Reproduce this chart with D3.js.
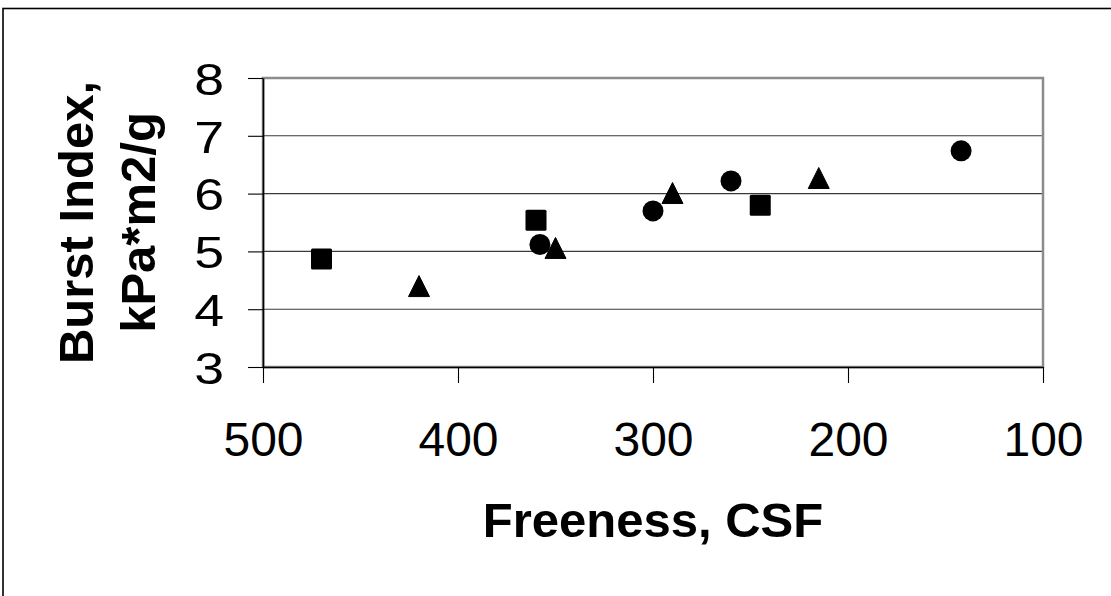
<!DOCTYPE html>
<html>
<head>
<meta charset="utf-8">
<script src="https://cdn.jsdelivr.net/npm/d3@7/dist/d3.min.js"></script>
<style>
  html, body { margin: 0; padding: 0; background: #fff; }
  svg { display: block; }
  text { font-family: "Liberation Sans", Arial, sans-serif; fill: #000; }
</style>
</head>
<body>
<svg id="chart" width="1111" height="596"></svg>
<script>
// ---- Data ----
const xTicks = [500, 400, 300, 200, 100];
const yTicks = [3, 4, 5, 6, 7, 8];

const squareFreeness = [470, 360, 245];
const squareBurst    = [4.87, 5.54, 5.80];

const circleFreeness = [358, 300, 260, 142];
const circleBurst    = [5.12, 5.70, 6.22, 6.74];

const triangleFreeness = [420, 350, 290, 215];
const triangleBurst    = [4.40, 5.06, 6.01, 6.27];

const xTitle = "Freeness, CSF";
const yTitleLines = ["Burst Index,", "kPa*m2/g"];

// ---- Layout ----
const svg = d3.select("#chart");
const plot = { left: 263, right: 1043, top: 78, bottom: 367 };

const x = d3.scaleLinear().domain([500, 100]).range([plot.left, plot.right]);
const y = d3.scaleLinear().domain([3, 8]).range([plot.bottom, plot.top]);

// outer chart border (only top and left visible in the reference)
svg.append("rect")
  .attr("x", 3).attr("y", 8.5)
  .attr("width", 1200).attr("height", 700)
  .attr("fill", "none").attr("stroke", "#000").attr("stroke-width", 1.6);

// gridlines
svg.append("g")
  .selectAll("line")
  .data(yTicks.filter(d => d !== 3 && d !== 8))
  .join("line")
  .attr("x1", plot.left).attr("x2", plot.right)
  .attr("y1", d => y(d)).attr("y2", d => y(d))
  .attr("stroke", "#3a3a3a").attr("stroke-width", 1.1);

// plot area border (gray)
svg.append("rect")
  .attr("x", plot.left).attr("y", plot.top)
  .attr("width", plot.right - plot.left).attr("height", plot.bottom - plot.top)
  .attr("fill", "none").attr("stroke", "#8c8c8c").attr("stroke-width", 2.5);

// Y axis
const yAxis = d3.axisLeft(y).tickValues(yTicks).tickSize(15).tickSizeOuter(0).tickPadding(0).tickFormat(d3.format("d"));
const gy = svg.append("g").attr("transform", `translate(${plot.left},0)`).call(yAxis);
gy.select(".domain").attr("stroke", "#000").attr("stroke-width", 1.6);
gy.selectAll(".tick line").attr("stroke", "#000").attr("stroke-width", 1.1);
gy.selectAll(".tick text")
  .attr("x", 0).attr("dy", null)
  .attr("font-size", 44)
  .attr("dominant-baseline", "central")
  .attr("text-anchor", "end")
  .attr("transform", "translate(-39,1) scale(1.22,1)")
  .attr("fill", "#000");

// X axis
const xAxis = d3.axisBottom(x).tickValues(xTicks).tickSize(16).tickSizeOuter(0).tickPadding(0).tickFormat(d3.format("d"));
const gx = svg.append("g").attr("transform", `translate(0,${plot.bottom})`).call(xAxis);
gx.select(".domain").attr("stroke", "#000").attr("stroke-width", 1.6);
gx.selectAll(".tick line").attr("stroke", "#000").attr("stroke-width", 1.1);
gx.selectAll(".tick text")
  .attr("y", 89).attr("dy", null)
  .attr("font-size", 48)
  .attr("fill", "#000");
svg.selectAll(".tick text").attr("font-family", "Liberation Sans, Arial, sans-serif");

// markers
const ms = 21;
const marks = svg.append("g");

marks.selectAll("rect.sq")
  .data(squareFreeness.map((f, i) => ({ f, b: squareBurst[i] })))
  .join("rect")
  .attr("class", "sq")
  .attr("x", d => x(d.f) - ms / 2).attr("y", d => y(d.b) - ms / 2)
  .attr("width", ms).attr("height", ms).attr("rx", 1.5)
  .attr("fill", "#000");

marks.selectAll("circle.ci")
  .data(circleFreeness.map((f, i) => ({ f, b: circleBurst[i] })))
  .join("circle")
  .attr("class", "ci")
  .attr("cx", d => x(d.f)).attr("cy", d => y(d.b))
  .attr("r", ms / 2)
  .attr("fill", "#000");

marks.selectAll("path.tr")
  .data(triangleFreeness.map((f, i) => ({ f, b: triangleBurst[i] })))
  .join("path")
  .attr("class", "tr")
  .attr("d", d => {
    const cx = x(d.f), cy = y(d.b), h = ms / 2;
    return `M${cx},${cy - h}L${cx + h},${cy + h}L${cx - h},${cy + h}Z`;
  })
  .attr("fill", "#000")
  .attr("stroke", "#000").attr("stroke-width", 1).attr("stroke-linejoin", "round");

// X title
svg.append("text")
  .attr("x", (plot.left + plot.right) / 2)
  .attr("y", 537)
  .attr("text-anchor", "middle")
  .attr("font-size", 49)
  .attr("font-weight", "bold")
  .text(xTitle);

// Y title (two lines, rotated)
const yt = svg.append("text")
  .attr("transform", `translate(93,${(plot.top + plot.bottom) / 2}) rotate(-90)`)
  .attr("text-anchor", "middle")
  .attr("font-size", 49)
  .attr("font-weight", "bold");
yt.selectAll("tspan")
  .data(yTitleLines)
  .join("tspan")
  .attr("x", 0)
  .attr("dy", (d, i) => i === 0 ? 0 : 62)
  .text(d => d);
</script>
</body>
</html>
